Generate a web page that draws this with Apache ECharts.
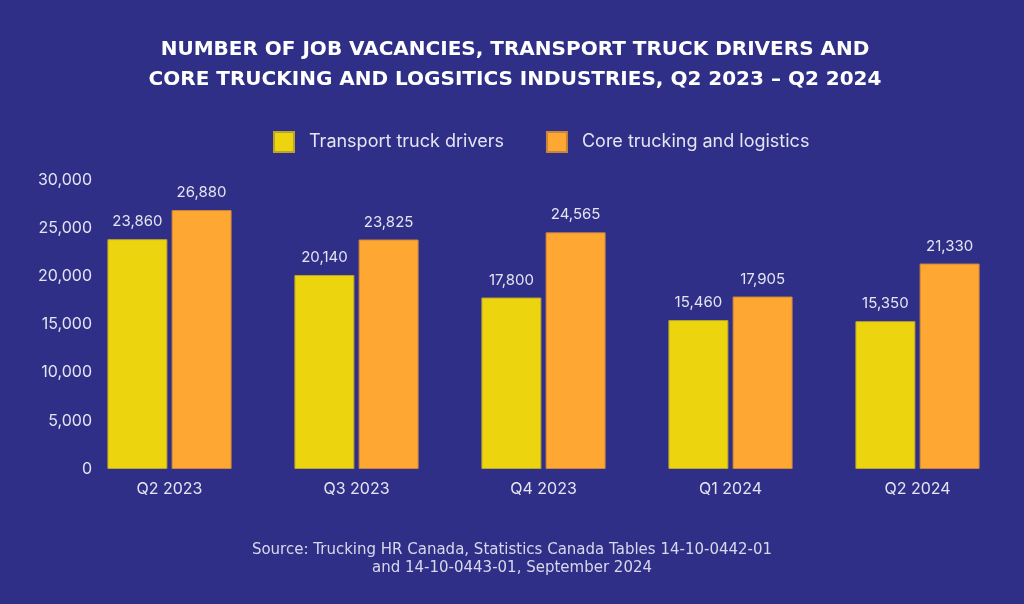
<!DOCTYPE html>
<html>
<head>
<meta charset="utf-8">
<style>
  html, body { margin: 0; padding: 0; background: #2f2f87; }
  #main { width: 1024px; height: 604px; }
</style>
<script src="https://cdn.jsdelivr.net/npm/echarts@6/dist/echarts.min.js"></script>
</head>
<body>
<div id="main"></div>
<script>
const quarters = ["Q2 2023", "Q3 2023", "Q4 2023", "Q1 2024", "Q2 2024"];
const truckDrivers = [23860, 20140, 17800, 15460, 15350];
const coreTrucking = [26880, 23825, 24565, 17905, 21330];
const seriesNames = ["Transport truck drivers", "Core trucking and logistics"];
const titleLines = [
  "NUMBER OF JOB VACANCIES, TRANSPORT TRUCK DRIVERS AND",
  "CORE TRUCKING AND LOGSITICS INDUSTRIES, Q2 2023 \u2013 Q2 2024"
];
const sourceLines = [
  "Source: Trucking HR Canada, Statistics Canada Tables 14-10-0442-01",
  "and 14-10-0443-01, September 2024"
];

var textColor = "#e4e4f2";
var fontFamily = "Inter, 'Open Sans', sans-serif";
var wideFont = "'DejaVu Sans', sans-serif";

var chartDom = document.getElementById("main");
var myChart = echarts.init(chartDom);

function fmt(v) {
  return v.toLocaleString("en-US");
}

var option = {
  backgroundColor: "#2f2f87",
  textStyle: { fontFamily: fontFamily },
  title: [
    {
      text: titleLines.join("\n"),
      left: 510,
      top: 30,
      textAlign: "center",
      textStyle: {
        color: "#ffffff",
        fontSize: 20,
        fontWeight: "bold",
        lineHeight: 30,
        fontFamily: wideFont,
      },
    },
    {
      text: sourceLines.join("\n"),
      left: 507,
      top: 536,
      textAlign: "center",
      textStyle: {
        color: "#d8d8ec",
        fontSize: 15,
        fontWeight: "normal",
        lineHeight: 18,
        fontFamily: wideFont,
      },
    },
  ],
  legend: {
    top: 126,
    left: 268,
    itemWidth: 20,
    itemHeight: 20,
    itemGap: 42,
    icon: "rect",
    textStyle: { color: textColor, fontSize: 18, padding: [0, 0, 0, 10] },
    data: seriesNames,
  },
  grid: {
    left: 76,
    right: 13,
    top: 180,
    bottom: 135,
  },
  xAxis: {
    type: "category",
    data: quarters,
    axisLine: { show: false },
    axisTick: { show: false },
    axisLabel: { color: textColor, fontSize: 16, margin: 12 },
  },
  yAxis: {
    type: "value",
    min: 0,
    max: 30000,
    interval: 5000,
    splitLine: { show: false },
    axisLine: { show: false },
    axisTick: { show: false },
    axisLabel: {
      color: textColor,
      fontSize: 16,
      margin: -16,
      formatter: function (v) { return fmt(v); },
    },
  },
  series: [
    {
      name: seriesNames[0],
      type: "bar",
      data: truckDrivers,
      barWidth: 60,
      barGap: "7%",
      itemStyle: { color: "#ecd50f", borderColor: "#b9a52a", borderWidth: 1 },
      label: {
        show: true,
        position: "top",
        distance: 10,
        color: textColor,
        fontSize: 15,
        formatter: function (p) { return fmt(p.value); },
      },
    },
    {
      name: seriesNames[1],
      type: "bar",
      data: coreTrucking,
      barWidth: 60,
      barGap: "7%",
      itemStyle: { color: "#ffa733", borderColor: "#c9853a", borderWidth: 1 },
      label: {
        show: true,
        position: "top",
        distance: 10,
        color: textColor,
        fontSize: 15,
        formatter: function (p) { return fmt(p.value); },
      },
    },
  ],
};

myChart.setOption(option);
</script>
</body>
</html>
